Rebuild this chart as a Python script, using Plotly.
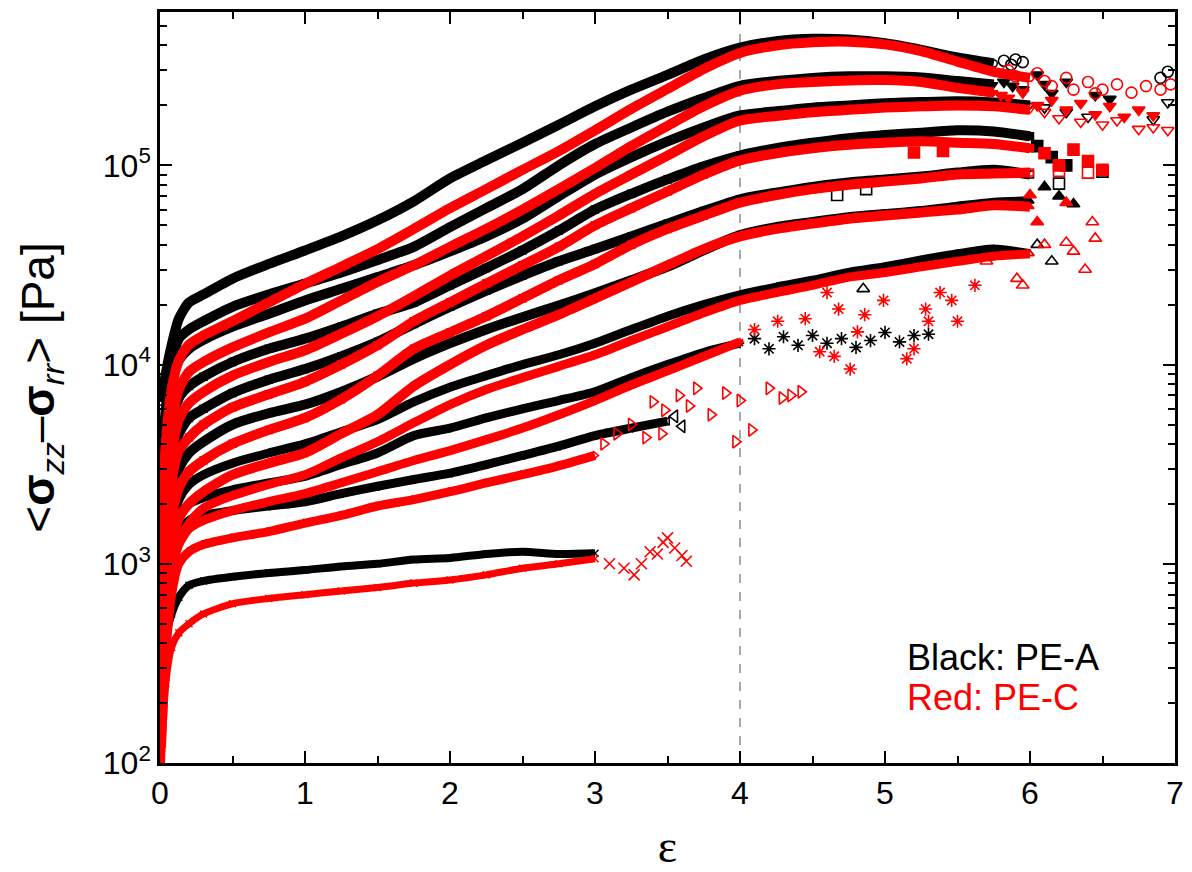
import plotly.graph_objects as go

# Hencky strain grid (x positions read at these strains)
STRAIN = [0.01, 0.04, 0.08, 0.13, 0.2, 0.3, 0.5, 0.75, 1.0, 1.25, 1.5, 1.75,
          2.0, 2.25, 2.5, 2.75, 3.0, 3.25, 3.5, 3.75, 4.0, 4.25, 4.5, 4.75,
          5.0, 5.25, 5.5, 5.75, 6.0]

# ---- PE-A (black) stress values [Pa] at STRAIN ----
A_CIRC = [6500, 9000, 12500, 17000, 20500, 22500, 27000, 32000, 37400, 44000, 53000, 66000,
          86000, 106000, 130000, 160000, 198000, 240000, 285000, 340000, 390000, 420000, 432000, 428000,
          410000, 380000, 348000, 325000]
A_TDN = [3000, 6000, 10000, 13500, 15000, 16500, 19500, 22500, 25500, 29000, 33500, 39000,
         49000, 61000, 76000, 100000, 128000, 155000, 186000, 218000, 251000, 265000, 275000, 280000,
         280000, 276000, 265000, 255000]
A_TDN_O = [2000, 4500, 8000, 10500, 12000, 13300, 15500, 18000, 21000, 24000, 27500, 31500,
           37000, 44000, 54000, 70000, 90000, 110000, 132000, 155000, 178000, 187000, 195000, 200000,
           205000, 208000, 210000, 207000, 200000]
A_SQ = [1300, 3000, 5000, 6800, 7800, 8700, 10300, 12000, 13500, 15500, 18000, 20500,
        25000, 30500, 37500, 47000, 60000, 72000, 85000, 99000, 112000, 122000, 130000, 137000,
        142000, 146000, 150000, 148000, 140000]
A_SQ_O = [900, 2000, 3300, 4500, 5400, 6000, 7200, 8400, 9500, 11000, 13000, 16000,
          19500, 23500, 28000, 33000, 38000, 44000, 51000, 59000, 67600, 73000, 78000, 82000,
          85000, 88000, 92000, 95000, 90000]
A_TUP = [600, 1300, 2200, 3000, 3600, 4100, 5000, 5700, 6300, 7300, 8700, 10700,
         12800, 15000, 17300, 19800, 22800, 26500, 31000, 37500, 44700, 49000, 52000, 55000,
         57000, 59000, 62000, 65000, 66000]
A_TUP_O = [400, 900, 1500, 2100, 2500, 2800, 3200, 3600, 4000, 4600, 5300, 6500,
           7700, 8800, 10000, 11200, 12800, 15000, 17500, 20000, 22400, 24500, 26500, 29000,
           31000, 33500, 36000, 38000, 36000]
A_AST = [300, 800, 1300, 1700, 2000, 2150, 2350, 2550, 2750, 3150, 3600, 4400,
         4800, 5400, 6000, 6600, 7300, 8600, 10000, 11500, 12800]
A_TRI = [250, 700, 1100, 1450, 1650, 1750, 1850, 1950, 2050, 2250, 2450, 2650,
         2850, 3150, 3500, 3900, 4400, 4800, 5200]
A_X = [300, 430, 560, 680, 780, 820, 860, 900, 930, 970, 1000, 1050,
       1070, 1120, 1150, 1120, 1130]

# ---- PE-C (red) stress values [Pa] at STRAIN ----
C_CIRC = [1500, 4000, 7500, 10500, 12600, 14000, 16500, 20500, 25400, 31000, 38000, 48000,
          61000, 76000, 95000, 118000, 150000, 192000, 242000, 305000, 367000, 400000, 415000, 418000,
          405000, 375000, 332000, 295000, 275000]
C_TDN = [800, 2500, 5000, 7500, 9200, 10300, 12200, 14500, 17000, 21000, 26000, 31500,
         39000, 48000, 60000, 76000, 97000, 125000, 158000, 198000, 237000, 255000, 262000, 267000,
         268000, 262000, 245000, 232000]
C_TDN_O = [600, 1800, 3600, 5300, 6400, 7300, 8800, 10300, 11800, 14300, 17500, 22000,
           28000, 35000, 44000, 56000, 72000, 90000, 112000, 140000, 168000, 177000, 185000, 190000,
           195000, 198000, 200000, 198000, 190000]
C_SQ = [450, 1300, 2600, 3700, 4300, 5000, 6100, 7100, 8200, 10000, 12500, 16500,
        20500, 25500, 31500, 39000, 50000, 61000, 74000, 90000, 106000, 115000, 122000, 127000,
        130000, 132000, 130000, 128000, 122000]
C_SQ_O = [350, 900, 1700, 2400, 2900, 3300, 4000, 4700, 5400, 6700, 8800, 12000,
          14500, 17500, 21500, 26500, 32000, 40000, 48000, 56000, 65000, 71000, 76000, 80000,
          83000, 86000, 90000, 91000, 92000]
C_TUP = [250, 600, 1200, 1700, 2000, 2300, 2800, 3200, 3600, 4500, 5600, 7800,
         10000, 12500, 15000, 17800, 21500, 26000, 31500, 38000, 44000, 48000, 51000, 54000,
         56000, 58000, 60000, 63000, 62000]
C_TUP_O = [200, 500, 900, 1300, 1600, 1900, 2200, 2500, 2800, 3400, 4100, 5100,
           6300, 7500, 8600, 9800, 11200, 13200, 15500, 18200, 21000, 23000, 25000, 27500,
           29000, 31000, 33000, 35000, 36000]
C_AST = [150, 450, 900, 1250, 1500, 1650, 1850, 2050, 2250, 2550, 2900, 3300,
         3700, 4200, 4800, 5600, 6600, 7900, 9300, 11000, 13000]
C_TRI = [120, 350, 700, 1000, 1150, 1250, 1350, 1450, 1600, 1750, 1950, 2100,
         2300, 2550, 2800, 3100, 3500]
C_X = [100, 250, 380, 450, 500, 560, 630, 670, 700, 730, 760, 800,
       830, 880, 950, 1000, 1060]

# ---- scattered end points (strain, stress) ----
A_CIRC_TX = [5.82, 5.87, 5.9, 5.95, 6.9, 6.95]
A_CIRC_TY = [335000, 320000, 340000, 330000, 275000, 295000]
C_CIRC_TX = [5.85, 5.9, 5.95, 6.05, 6.1, 6.15, 6.25, 6.3, 6.4, 6.45, 6.5, 6.6, 6.7, 6.8, 6.9, 6.97]
C_CIRC_TY = [300000, 280000, 255000, 290000, 265000, 250000, 275000, 240000, 262000, 230000, 240000,
             255000, 232000, 250000, 240000, 255000]
A_TDN_TX = [5.82, 5.88, 5.95, 6.05, 6.1, 6.15, 6.25, 6.45, 6.55]
A_TDN_TY = [262000, 250000, 240000, 285000, 255000, 230000, 262000, 225000, 215000]
C_TDN_TX = [5.8, 5.85, 5.95, 6.05, 6.15, 6.25, 6.35, 6.45, 6.55, 6.65, 6.75, 6.85]
C_TDN_TY = [225000, 218000, 232000, 200000, 212000, 190000, 205000, 180000, 198000, 175000, 190000, 178000]
A_TDNO_TX = [6.1, 6.25, 6.4, 6.85, 6.95]
A_TDNO_TY = [195000, 185000, 175000, 170000, 207000]
C_TDNO_TX = [6.1, 6.2, 6.35, 6.5, 6.6, 6.75, 6.85, 6.95]
C_TDNO_TY = [185000, 172000, 165000, 160000, 168000, 152000, 155000, 150000]
A_SQ_TX = [6.05, 6.15, 6.25]
A_SQ_TY = [125000, 110000, 100000]
C_SQ_TX = [5.2, 5.4, 6.1, 6.2, 6.3, 6.4, 6.5]
C_SQ_TY = [116000, 118000, 115000, 100000, 120000, 105000, 95000]
A_SQO_TX = [4.67, 4.87, 6.2, 6.5]
A_SQO_TY = [71000, 76000, 81000, 93000]
C_SQO_TX = [6.2, 6.4]
C_SQO_TY = [94000, 92000]
A_TUP_TX = [6.1, 6.2, 6.3]
A_TUP_TY = [78000, 70000, 64000]
C_TUP_TX = [6.0, 6.05, 6.25]
C_TUP_TY = [71000, 52000, 65000]
A_TUPO_TX = [4.85, 6.05, 6.15]
A_TUPO_TY = [24000, 40000, 33000]
C_TUPO_TX = [5.7, 5.91, 5.95, 6.1, 6.25, 6.3, 6.38, 6.43, 6.45]
C_TUPO_TY = [33000, 27000, 25000, 40000, 41000, 37000, 30000, 52000, 43000]
A_AST_TX = [4.1, 4.2, 4.3, 4.4, 4.5, 4.6, 4.7, 4.8, 4.9, 5.0, 5.1, 5.2, 5.3]
A_AST_TY = [13500, 12000, 13800, 12500, 14000, 12800, 13500, 12200, 13200, 14500, 13000, 14000, 14200]
C_AST_TX = [4.1, 4.26, 4.45, 4.55, 4.6, 4.65, 4.68, 4.76, 4.81, 4.86, 4.99, 5.15, 5.2,
            5.28, 5.3, 5.38, 5.46, 5.5, 5.62]
C_AST_TY = [15000, 16500, 17000, 11600, 23000, 11000, 19000, 9500, 14600, 17800, 21000, 10700, 12000,
            19000, 16500, 23000, 21000, 16500, 25000]
A_TRI_TX = [3.55, 3.6]
A_TRI_TY = [5500, 4900]
C_TRI_TX = [3.06, 3.15, 3.25, 3.35, 3.4, 3.46, 3.48, 3.58, 3.65, 3.7, 3.8, 3.9, 3.97, 4.0,
            4.08, 4.2, 4.29, 4.35, 4.42]
C_TRI_TY = [4000, 4500, 5000, 4300, 6500, 4500, 5900, 7000, 6200, 7600, 5600, 7200, 4100, 6600,
            4700, 7600, 6800, 7000, 7300]
C_X_TX = [3.1, 3.2, 3.27, 3.32, 3.38, 3.43, 3.47, 3.5, 3.55, 3.6, 3.63]
C_X_TY = [1000, 950, 880, 1000, 1150, 1120, 1280, 1350, 1200, 1100, 1030]

X_TICKS = [0, 1, 2, 3, 4, 5, 6, 7]
Y_TICKS = [100, 1000, 10000, 100000]
Y_TICKTEXT = ["10<sup>2</sup>", "10<sup>3</sup>", "10<sup>4</sup>", "10<sup>5</sup>"]

BLACK = "#000000"
RED = "#ff0000"

black_series = [
    (A_CIRC, "circle-open", A_CIRC_TX, A_CIRC_TY, 10),
    (A_TDN, "triangle-down", A_TDN_TX, A_TDN_TY, 10),
    (A_TDN_O, "triangle-down-open", A_TDNO_TX, A_TDNO_TY, 10),
    (A_SQ, "square", A_SQ_TX, A_SQ_TY, 10),
    (A_SQ_O, "square-open", A_SQO_TX, A_SQO_TY, 10),
    (A_TUP, "triangle-up", A_TUP_TX, A_TUP_TY, 10),
    (A_TUP_O, "triangle-up-open", A_TUPO_TX, A_TUPO_TY, 9),
    (A_AST, "asterisk-open", A_AST_TX, A_AST_TY, 9),
    (A_TRI, "triangle-left-open", A_TRI_TX, A_TRI_TY, 9),
    (A_X, "x-thin-open", [], [], 8),
]
red_series = [
    (C_CIRC, "circle-open", C_CIRC_TX, C_CIRC_TY, 10),
    (C_TDN, "triangle-down", C_TDN_TX, C_TDN_TY, 10),
    (C_TDN_O, "triangle-down-open", C_TDNO_TX, C_TDNO_TY, 10),
    (C_SQ, "square", C_SQ_TX, C_SQ_TY, 10),
    (C_SQ_O, "square-open", C_SQO_TX, C_SQO_TY, 10),
    (C_TUP, "triangle-up", C_TUP_TX, C_TUP_TY, 10),
    (C_TUP_O, "triangle-up-open", C_TUPO_TX, C_TUPO_TY, 9),
    (C_AST, "asterisk-open", C_AST_TX, C_AST_TY, 9),
    (C_TRI, "triangle-right-open", C_TRI_TX, C_TRI_TY, 9),
    (C_X, "x-thin-open", C_X_TX, C_X_TY, 7),
]

fig = go.Figure()


def add_group(series, color):
    for vals, sym, tx, ty, lw in series:
        xs = STRAIN[:len(vals)]
        fig.add_trace(go.Scatter(
            x=xs, y=vals, mode="lines+markers",
            line=dict(color=color, width=lw, shape="spline", smoothing=0.7),
            marker=dict(symbol=sym, size=7, color=color,
                        line=dict(color=color, width=1.5)),
            showlegend=False, hoverinfo="skip"))
        if tx:
            fig.add_trace(go.Scatter(
                x=tx, y=ty, mode="markers",
                marker=dict(symbol=sym, size=11, color=color,
                            line=dict(color=color, width=1.6)),
                showlegend=False, hoverinfo="skip"))


add_group(black_series, BLACK)
add_group(red_series, RED)

fig.add_shape(type="line", x0=4, x1=4, y0=0, y1=1, xref="x", yref="paper",
              line=dict(color="rgb(140,140,140)", width=1.5, dash="dash"), layer="below")

fig.add_annotation(x=0.734, y=0.14, xref="paper", yref="paper", text="Black: PE-A",
                   showarrow=False, xanchor="left", yanchor="middle",
                   font=dict(family="Liberation Sans, Arial", size=36, color=BLACK))
fig.add_annotation(x=0.734, y=0.087, xref="paper", yref="paper", text="Red: PE-C",
                   showarrow=False, xanchor="left", yanchor="middle",
                   font=dict(family="Liberation Sans, Arial", size=36, color=RED))

axis_common = dict(showline=True, linecolor="black", linewidth=2.5, mirror="ticks",
                   ticks="inside", tickcolor="black", tickwidth=2, ticklen=12,
                   showgrid=False, zeroline=False,
                   tickfont=dict(family="Liberation Sans, Arial", size=32, color="black"))

minor_y = [k * 10 ** d for d in range(2, 6) for k in range(2, 10)]

fig.update_xaxes(range=[0, 7], tickvals=X_TICKS, ticktext=[str(v) for v in X_TICKS],
                 minor=dict(ticks="inside", dtick=0.5, ticklen=7, tickwidth=2, tickcolor="black"),
                 title=dict(text="ε", font=dict(family="Liberation Serif", size=46, color="black"),
                            standoff=20),
                 **axis_common)
fig.update_yaxes(type="log", range=[2, 5.77], tickvals=Y_TICKS, ticktext=Y_TICKTEXT,
                 minor=dict(ticks="inside", tickvals=minor_y, ticklen=7, tickwidth=2, tickcolor="black"),
                 title=dict(text="&lt;<b>σ</b><sub><i>zz</i></sub>–<b>σ</b><sub><i>rr</i></sub>&gt; [Pa]",
                            font=dict(family="Liberation Sans, Arial", size=46, color="black"),
                            standoff=34),
                 **axis_common)

# page body adds an 8 px offset, so the figure is sized to leave the plot box where it sits in the reference
fig.update_layout(width=1184, height=864, autosize=False,
                  margin=dict(l=152, r=17, t=1, b=109),
                  plot_bgcolor="white", paper_bgcolor="white")

fig.write_html("out.html")
